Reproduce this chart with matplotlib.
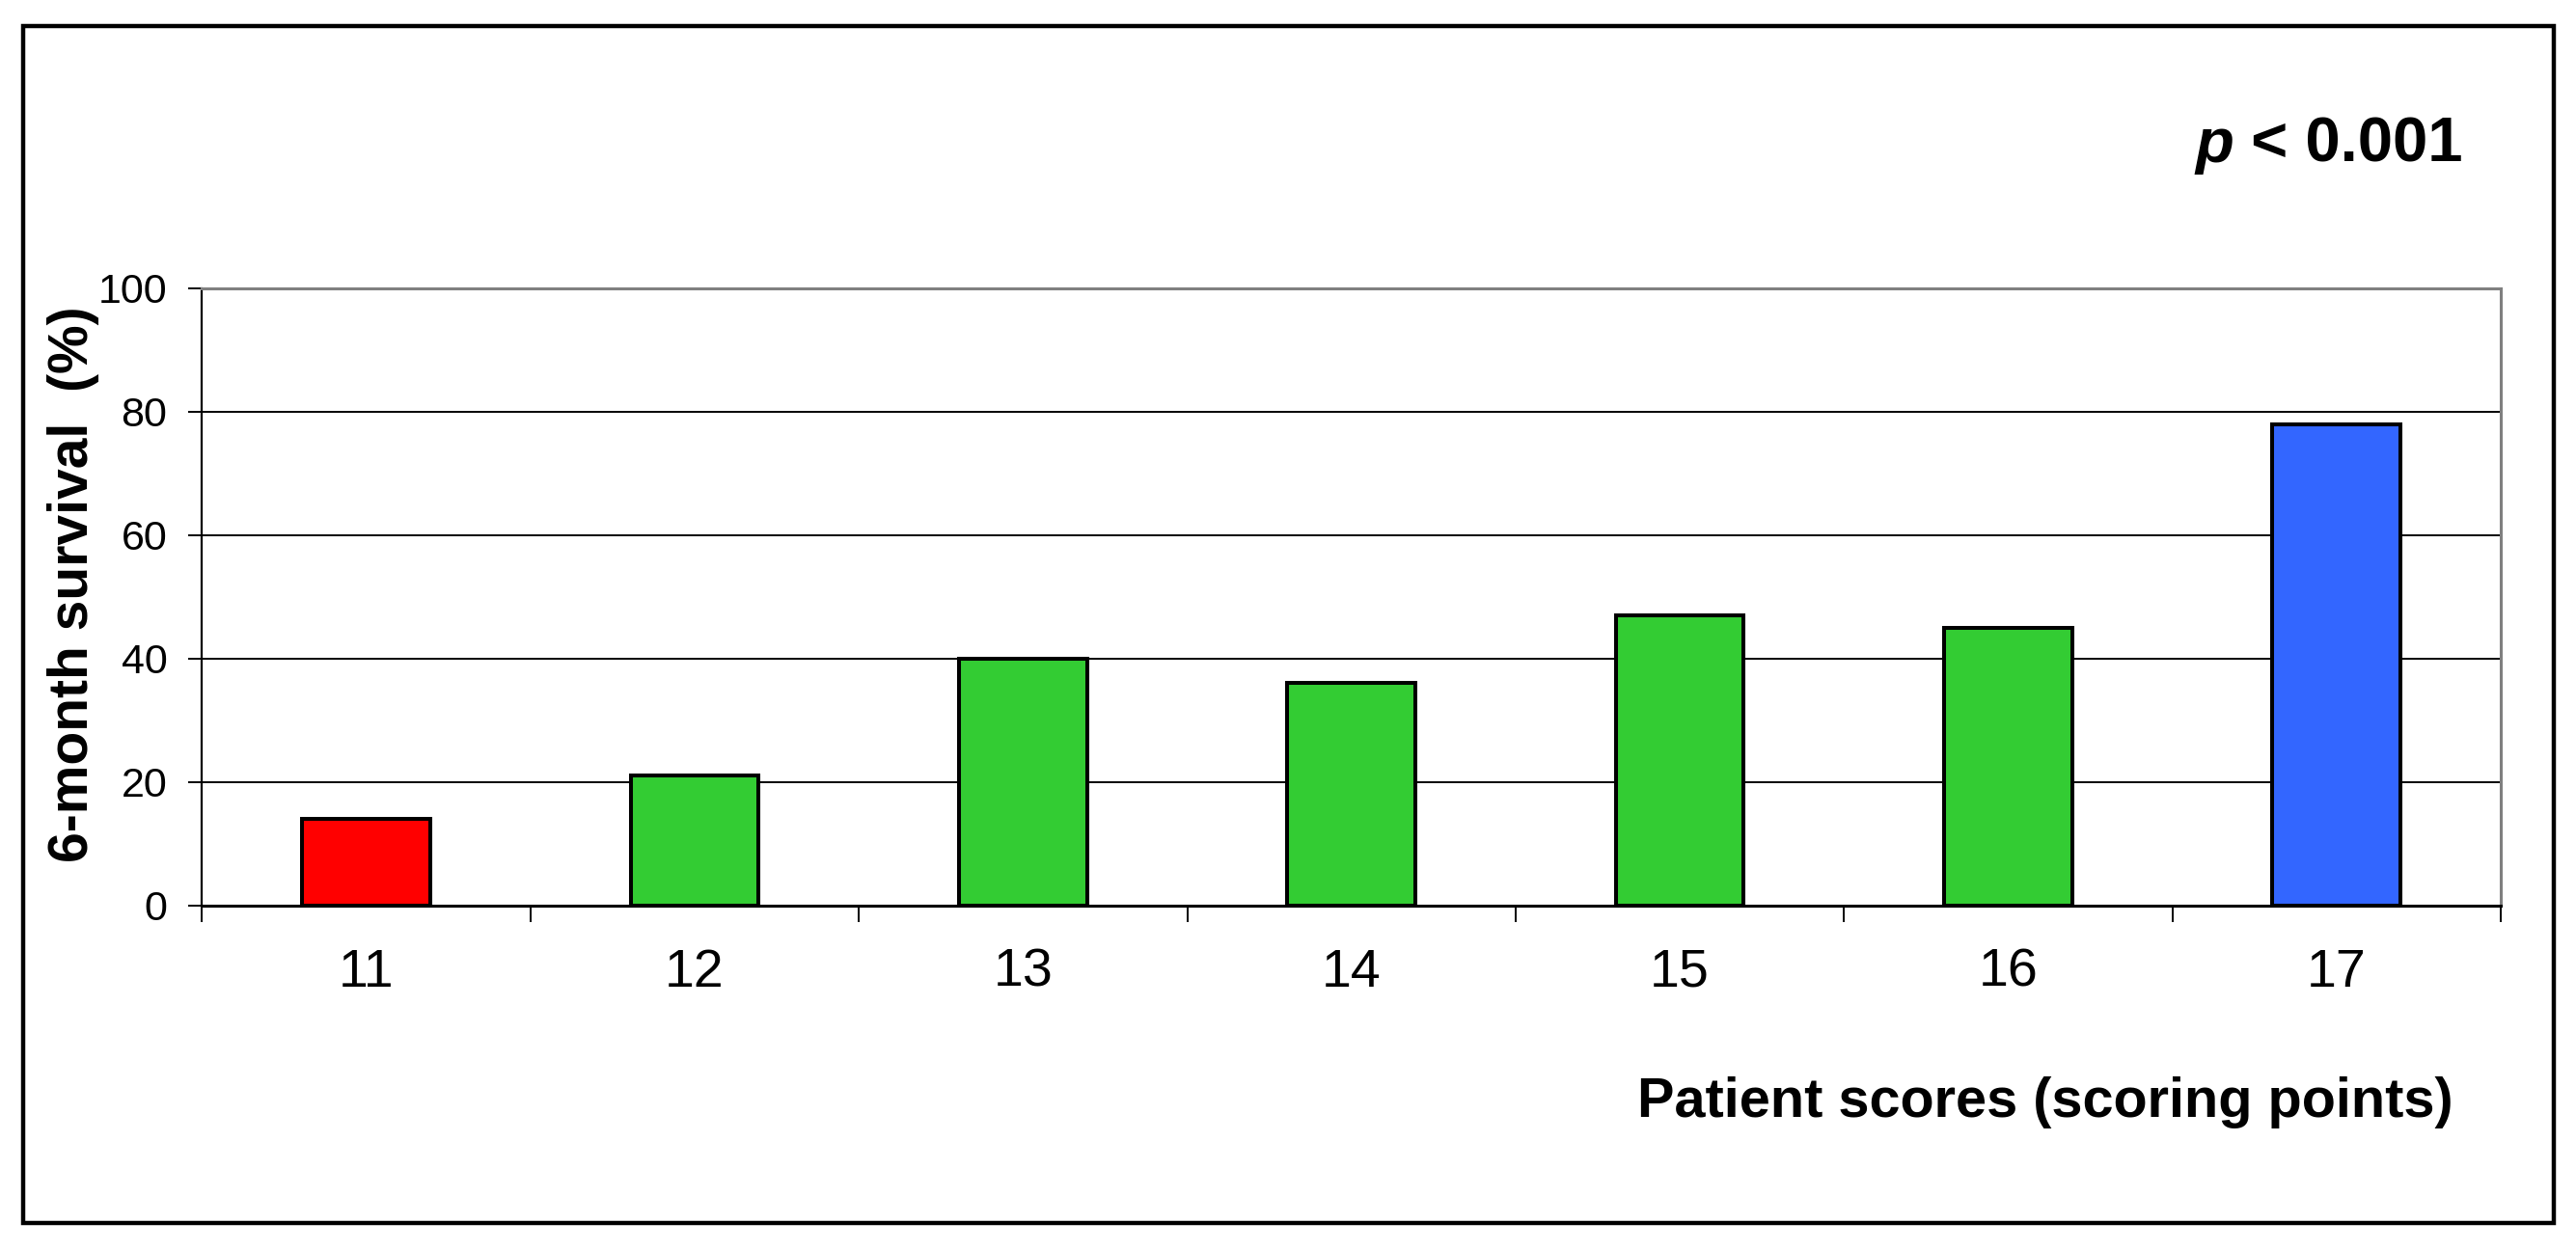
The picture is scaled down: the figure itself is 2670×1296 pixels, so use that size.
import numpy as np
import matplotlib
matplotlib.use("Agg")
import matplotlib.pyplot as plt
from matplotlib.patches import Rectangle

plt.rcParams['font.family'] = ['Liberation Sans', 'DejaVu Sans']

# ---- data ----
scores = ['11', '12', '13', '14', '15', '16', '17']
survival = [14, 21, 40, 36, 47, 45, 78]
bar_colors = ['#FF0000', '#33CC33', '#33CC33', '#33CC33', '#33CC33', '#33CC33', '#3366FF']
y_ticks = [0, 20, 40, 60, 80, 100]
y_label = "6-month survival  (%)"
x_label = "Patient scores (scoring points)"
p_text = "p"
p_rest = " < 0.001"

W, H = 2670, 1296
fig = plt.figure(figsize=(W / 100, H / 100), dpi=100)
fig.patch.set_facecolor('white')

left, right, top, bottom = 209.5, 2592, 299, 938.5
ax = fig.add_axes([left / W, 1 - bottom / H, (right - left) / W, (bottom - top) / H])

x = np.arange(len(scores))
ax.bar(x, survival, width=0.39, color=bar_colors, edgecolor='black',
       linewidth=2.9, zorder=3)

ax.set_xlim(-0.5, len(scores) - 0.5)
ax.set_ylim(0, 100)

# grid
ax.set_axisbelow(True)
ax.yaxis.grid(True, color='black', linewidth=1.4)
ax.xaxis.grid(False)

# y ticks
ax.set_yticks(y_ticks)
ax.set_yticklabels([str(v) for v in y_ticks])
ax.tick_params(axis='y', direction='out', length=10, width=1.4, pad=16,
               labelsize=31, colors='black')

# x ticks: major at boundaries, labels on minor at centres
ax.set_xticks(np.arange(-0.5, len(scores), 1.0))
ax.set_xticklabels([])
ax.set_xticks(x, minor=True)
ax.set_xticklabels(scores, minor=True)
ax.tick_params(axis='x', which='major', direction='out', length=12, width=1.4)
ax.tick_params(axis='x', which='minor', length=0, pad=32, labelsize=40)

for s in ['top', 'right']:
    ax.spines[s].set_color('#808080')
    ax.spines[s].set_linewidth(2.2)
ax.spines['left'].set_color('black')
ax.spines['left'].set_linewidth(1.6)
ax.spines['bottom'].set_color('black')
ax.spines['bottom'].set_linewidth(2.2)

# labels
fig.text(76 / W, 1 - 606 / H, y_label, rotation=90, ha='center', va='center',
         fontsize=41, fontweight='bold')
fig.text(2543 / W, 1 - 1158 / H, x_label, ha='right', va='baseline',
         fontsize=41.5, fontweight='bold')

# p-value text
t2 = fig.text(2553 / W, 1 - 168 / H, p_rest, ha='right', va='baseline',
              fontsize=47, fontweight='bold')
renderer = fig.canvas.get_renderer()
bb = t2.get_window_extent(renderer)
fig.text(bb.x0 / W, 1 - 168 / H, p_text, ha='right', va='baseline',
         fontsize=47, fontweight='bold', fontstyle='italic')

# outer frame
fig.patches.append(Rectangle((24 / W, 1 - 1268 / H), (2647 - 24) / W, (1268 - 27) / H,
                             transform=fig.transFigure, fill=False,
                             edgecolor='black', linewidth=3.2))

fig.savefig('out.png', dpi=100, facecolor='white')
